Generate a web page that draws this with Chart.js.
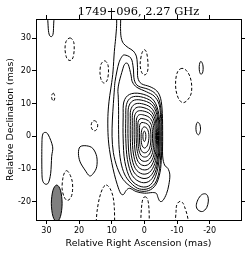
<!DOCTYPE html>
<html>
<head>
<meta charset="utf-8">
<script src="https://cdn.jsdelivr.net/npm/chart.js@4/dist/chart.umd.min.js"></script>
<style>
  html, body { margin: 0; padding: 0; background: #fff; }
  canvas { display: block; }
</style>
</head>
<body>
<canvas id="map" width="250" height="255"></canvas>
<script>
// axis limits and ticks (mas)
var xRange = [-29.6, 33.2];
var yRange = [-25.6, 35.9];
var xTicks = [30, 20, 10, 0, -10, -20];
var yTicks = [30, 20, 10, 0, -10, -20];

// contours, flat [x, y, x, y, ...] lists in mas, each one a closed loop
// outer jet levels
var jetLevel1 = [
  -5.5, 7, -5.6, 0, -5.6, -6, -6.2, -8.8, -7.2, -9.8, -7.8, -11.8, -7.5, -14.8,
  -6.8, -17.5, -5.7, -19.6, -4.8, -19.9, -4.2, -18.8, -3.7, -17.5, -2.5, -17.2,
  0, -17.4, 2.5, -16.9, 4.5, -15.9, 5.6, -16.6, 6.4, -17.8, 7.3, -17.4, 8.3, -14.8,
  9.2, -11.6, 10.0, -8, 10.7, -4, 11.1, 0, 11.2, 5, 11.0, 9, 10.6, 12.5, 10.0, 16.5,
  9.6, 20, 9.2, 26, 8.8, 30, 8.5, 34, 8.4, 39, 7.3, 39, 7.3, 33, 7.1, 30.2,
  6.4, 28.4, 4.9, 27.1, 3.4, 26.1, 2.4, 24.3, 2.1, 21, 2.0, 17.9, 0.9, 16.1,
  -1.7, 15.2, -3.8, 13.9, -5.0, 11.5
];
var jetLevel2 = [
  6.1, 24.9, 4.1, 23.9, 3.4, 20.9, 3.1, 17.3, 1.9, 15.4, -1.2, 14.4, -3.4, 13.0,
  -4.7, 10.5, -5.25, 6, -5.35, 0, -5.25, -6, -4.8, -11, -3.5, -14.8, -1.3, -16.6,
  1.5, -16.7, 4.0, -15.5, 6.5, -13.2, 8.3, -9.6, 9.5, -5, 9.9, 0, 9.8, 5, 9.5, 10,
  9.2, 14.2, 9.0, 16.7, 8.4, 20, 7.8, 22.5, 7.0, 24.2
];
var jetLevel3 = [
  5.6, 22.4, 4.9, 21.9, 4.1, 18.8, 3.7, 16.7, 2.3, 15.0, -0.7, 13.6, -3.0, 12.3,
  -4.5, 9.8, -5.0, 5.5, -5.1, 0, -5.0, -6, -4.5, -10.8, -3.3, -14.3, -1.2, -16.0,
  1.5, -16.1, 3.6, -14.8, 5.7, -12.3, 7.0, -8.8, 7.7, -4, 7.9, 2, 7.9, 8, 8.0, 12,
  8.1, 14.2, 7.7, 16.7, 6.7, 20.3, 6.2, 21.8
];
// core rings, outer to inner
var ring1 = [6.3, 10.5, 4.6, 12.8, 1.3, 13.1, -2.4, 11.5, -4.2, 7.9, -4.8, 2.0, -4.65, -5.4, -3.8, -11.1, -1.9, -14.8, 1.0, -15.4, 4.2, -13.1, 6.0, -7.7, 6.5, -0.8, 6.5, 5.9];
var ring2 = [5.5, 9.7, 4.0, 11.9, 1.1, 12.1, -2.3, 10.6, -4.0, 7.3, -4.55, 1.8, -4.4, -4.9, -3.6, -10.2, -1.8, -13.5, 0.9, -14.1, 3.7, -12.0, 5.2, -7.1, 5.7, -0.7, 5.7, 5.4];
var ring3 = [4.85, 8.9, 3.5, 10.9, 1.0, 11.1, -2.15, 9.8, -3.8, 6.7, -4.3, 1.7, -4.2, -4.5, -3.45, -9.2, -1.7, -12.3, 0.75, -12.8, 3.25, -10.9, 4.6, -6.4, 5.0, -0.6, 5.0, 5.0];
var ring4 = [4.2, 8.0, 3.0, 9.8, 0.85, 10.0, -2.0, 8.8, -3.5, 6.0, -4.0, 1.5, -3.9, -4.0, -3.2, -8.3, -1.6, -11.0, 0.65, -11.5, 2.8, -9.8, 4.0, -5.75, 4.3, -0.6, 4.3, 4.5];
var ring5 = [3.6, 7.1, 2.6, 8.7, 0.75, 8.9, -1.85, 7.8, -3.25, 5.3, -3.7, 1.3, -3.6, -3.6, -2.95, -7.3, -1.5, -9.8, 0.55, -10.2, 2.4, -8.7, 3.4, -5.1, 3.7, -0.5, 3.7, 4.0];
var ring6 = [3.0, 6.2, 2.2, 7.6, 0.6, 7.8, -1.7, 6.9, -2.95, 4.7, -3.35, 1.2, -3.25, -3.1, -2.7, -6.4, -1.35, -8.5, 0.45, -8.9, 2.0, -7.6, 2.85, -4.45, 3.1, -0.45, 3.1, 3.5];
var ring7 = [2.4, 5.3, 1.75, 6.5, 0.5, 6.6, -1.5, 5.8, -2.6, 4.0, -2.95, 1.0, -2.85, -2.7, -2.35, -5.5, -1.2, -7.3, 0.4, -7.6, 1.6, -6.5, 2.3, -3.8, 2.5, -0.4, 2.5, 3.0];
var ring8 = [1.95, 4.3, 1.4, 5.3, 0.4, 5.4, -1.25, 4.75, -2.2, 3.25, -2.5, 0.8, -2.4, -2.2, -2.0, -4.5, -1.0, -6.05, 0.3, -6.3, 1.3, -5.35, 1.85, -3.15, 2.0, -0.3, 2.0, 2.4];
var ring9 = [1.45, 3.35, 1.05, 4.1, 0.3, 4.2, -1.0, 3.7, -1.75, 2.5, -2.0, 0.6, -1.95, -1.75, -1.6, -3.6, -0.8, -4.8, 0.2, -5.0, 1.0, -4.25, 1.4, -2.5, 1.5, -0.25, 1.5, 1.9];
var ring10 = [0, 2.9, -1.0, 2.1, -1.4, 0, -1.0, -2.6, 0, -3.6, 0.8, -2.5, 1.0, 0, 0.75, 2.1];
var ringPeak = [0, 1.6, -0.35, 1.0, -0.45, 0, -0.35, -1.0, 0, -1.6, 0.35, -1.0, 0.45, 0, 0.35, 1.0];
// isolated positive islands
var islandNW = [29.6, 40, 29.5, 34, 29.2, 31.3, 28.6, 30.5, 28.0, 31.2, 27.8, 34, 27.7, 40];
var islandW = [30.4, 1.2, 29.4, 0.4, 28.1, -3.2, 28.4, -6.2, 28.7, -11.3, 29.4, -14.2, 30.4, -14.6, 31.2, -13.4, 31.4, -10.1, 31.4, -3.0, 31.2, 0.4];
var islandSW = [19.7, -3.2, 17.7, -2.9, 15.8, -3.7, 14.6, -6.2, 14.6, -9.3, 15.6, -11.3, 16.8, -12.1, 18.2, -10.3, 19.7, -7.8, 20.2, -5.2];
var islandNE = [-17.4, 22.9, -17.9, 21.9, -18.0, 20.5, -17.8, 19.4, -17.3, 19.0, -16.9, 19.8, -16.8, 21.3, -17.0, 22.5];
var islandE = [-16.4, 4.3, -17.0, 3.6, -17.2, 2.2, -16.9, 0.8, -16.4, 0.5, -15.9, 1.4, -15.8, 2.8, -16.0, 3.9];
var islandSE = [-18.7, -17.6, -19.4, -18.3, -19.6, -19.8, -19.1, -21.8, -17.8, -23.0, -16.4, -22.5, -15.9, -21.2, -16.4, -19.4, -17.5, -17.9];

// negative contours
var negA = [27.9, 13.2, 27.5, 12.5, 27.5, 11.4, 27.9, 10.8, 28.3, 11.4, 28.4, 12.5];
var negB = [22.8, 30.1, 21.7, 29.0, 21.5, 26.5, 21.9, 24.0, 22.8, 23.2, 23.8, 24.0, 24.3, 26.5, 24.0, 29.0];
var negC = [12.2, 23.1, 11.2, 22.0, 11.0, 19.5, 11.4, 17.2, 12.3, 16.3, 13.2, 17.2, 13.6, 19.5, 13.3, 22.0];
var negD = [0.0, 26.5, -0.7, 25.5, -1.1, 22.5, -1.0, 20, -0.2, 18.8, 0.8, 19.5, 1.3, 22, 0.8, 25.3];
var negE = [15.3, 4.8, 14.5, 4.2, 14.3, 3.2, 14.7, 2.0, 15.4, 1.7, 16.1, 2.3, 16.3, 3.4, 16.0, 4.4];
var negF = [-11.5, 20.8, -10.2, 19.8, -9.6, 17.2, -9.7, 14, -10.6, 11.3, -11.9, 10.3, -13.3, 11.2, -14.3, 13, -14.5, 15.5, -14.0, 18.2, -12.9, 20.1];
var negG = [23.8, -10.5, 22.9, -11.5, 22.1, -13.8, 22.0, -16.5, 22.5, -18.7, 23.6, -19.6, 24.6, -18.5, 25.2, -16, 25.0, -13, 24.5, -11.2];
var negH = [11.7, -14.9, 10.5, -16, 9.6, -18.5, 9.2, -22, 9.1, -27, 9.1, -30, 15.0, -30, 14.8, -27, 14.5, -23, 13.8, -19, 12.8, -16];
var negI = [-0.2, -18.5, -1.0, -19.3, -1.4, -22, -1.5, -26, -1.5, -30, 1.1, -30, 1.1, -26, 0.9, -22, 0.5, -19.3];
var negJ = [-10.9, -19.9, -10.0, -20.8, -9.7, -23, -9.7, -30, -13.8, -30, -13.3, -25, -12.3, -21.5, -11.7, -20.3];

// restoring beam
var beam = [26.85, -14.9, 25.7, -16.5, 25.2, -20.5, 25.7, -24.5, 26.85, -26.1, 28.0, -24.5, 28.5, -20.5, 28.0, -16.5];

var positive = [jetLevel1, jetLevel2, jetLevel3, ring1, ring2, ring3, ring4, ring5, ring6,
  ring7, ring8, ring9, ring10, ringPeak, islandNW, islandW, islandSW, islandNE, islandE, islandSE];
var negative = [negA, negB, negC, negD, negE, negF, negG, negH, negI, negJ];

function toPoints(flat) {
  var pts = [];
  for (var i = 0; i < flat.length; i += 2) pts.push({ x: flat[i], y: flat[i + 1] });
  return pts;
}

var datasets = [];
datasets.push({ data: toPoints(beam), fillColor: '#7f7f7f', dash: [] });
positive.forEach(function (c) { datasets.push({ data: toPoints(c), dash: [] }); });
negative.forEach(function (c) { datasets.push({ data: toPoints(c), dash: [3, 2] }); });
datasets.forEach(function (d) { d.showLine = false; d.pointRadius = 0; d.pointHoverRadius = 0; });

// closed smooth loops through each contour, placed with the chart's own scales
var contourPlugin = {
  id: 'contours',
  afterDatasetsDraw: function (chart) {
    var ctx = chart.ctx, area = chart.chartArea;
    var sx = chart.scales.x, sy = chart.scales.y;
    ctx.save();
    ctx.beginPath();
    ctx.rect(area.left, area.top, area.right - area.left, area.bottom - area.top);
    ctx.clip();
    chart.data.datasets.forEach(function (ds) {
      var p = ds.data.map(function (d) {
        return { x: sx.getPixelForValue(d.x), y: sy.getPixelForValue(d.y) };
      });
      var n = p.length;
      ctx.beginPath();
      ctx.moveTo(p[0].x, p[0].y);
      for (var k = 0; k < n; k++) {
        var p0 = p[(k - 1 + n) % n], p1 = p[k], p2 = p[(k + 1) % n], p3 = p[(k + 2) % n];
        ctx.bezierCurveTo(
          p1.x + (p2.x - p0.x) / 6, p1.y + (p2.y - p0.y) / 6,
          p2.x - (p3.x - p1.x) / 6, p2.y - (p3.y - p1.y) / 6,
          p2.x, p2.y);
      }
      ctx.closePath();
      if (ds.fillColor) {
        ctx.fillStyle = ds.fillColor;
        ctx.fill();
      }
      ctx.setLineDash(ds.dash);
      ctx.lineWidth = 1;
      ctx.strokeStyle = '#000';
      ctx.stroke();
    });
    ctx.restore();
  }
};

Chart.defaults.font.family = 'DejaVu Sans';
Chart.defaults.color = '#000';

var tickFont = { family: 'DejaVu Sans', size: 8 };
var grid = { drawOnChartArea: false, color: '#000', tickLength: 4 };
var border = { color: '#000', width: 1 };

new Chart(document.getElementById('map'), {
  type: 'scatter',
  data: { datasets: datasets },
  options: {
    responsive: false,
    animation: false,
    devicePixelRatio: 1,
    layout: { padding: 0 },
    plugins: { legend: { display: false }, tooltip: { enabled: false } },
    scales: {
      x: {
        type: 'linear', position: 'bottom', reverse: true,
        min: xRange[0], max: xRange[1],
        afterBuildTicks: function (s) { s.ticks = xTicks.map(function (v) { return { value: v }; }); },
        ticks: { font: tickFont, color: '#000', padding: 2, maxRotation: 0, autoSkip: false },
        grid: grid, border: border,
        title: { display: true, text: 'Relative Right Ascension (mas)', color: '#000',
          font: { family: 'DejaVu Sans', size: 9.4 }, padding: { top: 0, bottom: 6.2 } },
        afterFit: function (s) { s.height = 35; }
      },
      x2: {
        type: 'linear', axis: 'x', position: 'top', reverse: true,
        min: xRange[0], max: xRange[1],
        afterBuildTicks: function (s) { s.ticks = xTicks.map(function (v) { return { value: v }; }); },
        ticks: { display: false },
        grid: grid, border: border,
        title: { display: true, text: '1749+096, 2.27 GHz', color: '#000',
          font: { family: 'DejaVu Serif', size: 11.4 }, padding: { top: 5.5, bottom: 0 } },
        afterFit: function (s) { s.height = 19; }
      },
      y: {
        type: 'linear', position: 'left',
        min: yRange[0], max: yRange[1],
        afterBuildTicks: function (s) { s.ticks = yTicks.map(function (v) { return { value: v }; }); },
        ticks: { font: tickFont, color: '#000', padding: 1, autoSkip: false },
        grid: grid, border: border,
        title: { display: true, text: 'Relative Declination (mas)', color: '#000',
          font: { family: 'DejaVu Sans', size: 9.3 }, padding: { top: 4.9, bottom: 0 } },
        afterFit: function (s) { s.width = 36; }
      },
      y2: {
        type: 'linear', axis: 'y', position: 'right',
        min: yRange[0], max: yRange[1],
        afterBuildTicks: function (s) { s.ticks = yTicks.map(function (v) { return { value: v }; }); },
        ticks: { display: false },
        grid: grid, border: border,
        afterFit: function (s) { s.width = 9; }
      }
    }
  },
  plugins: [contourPlugin]
});
</script>
</body>
</html>
